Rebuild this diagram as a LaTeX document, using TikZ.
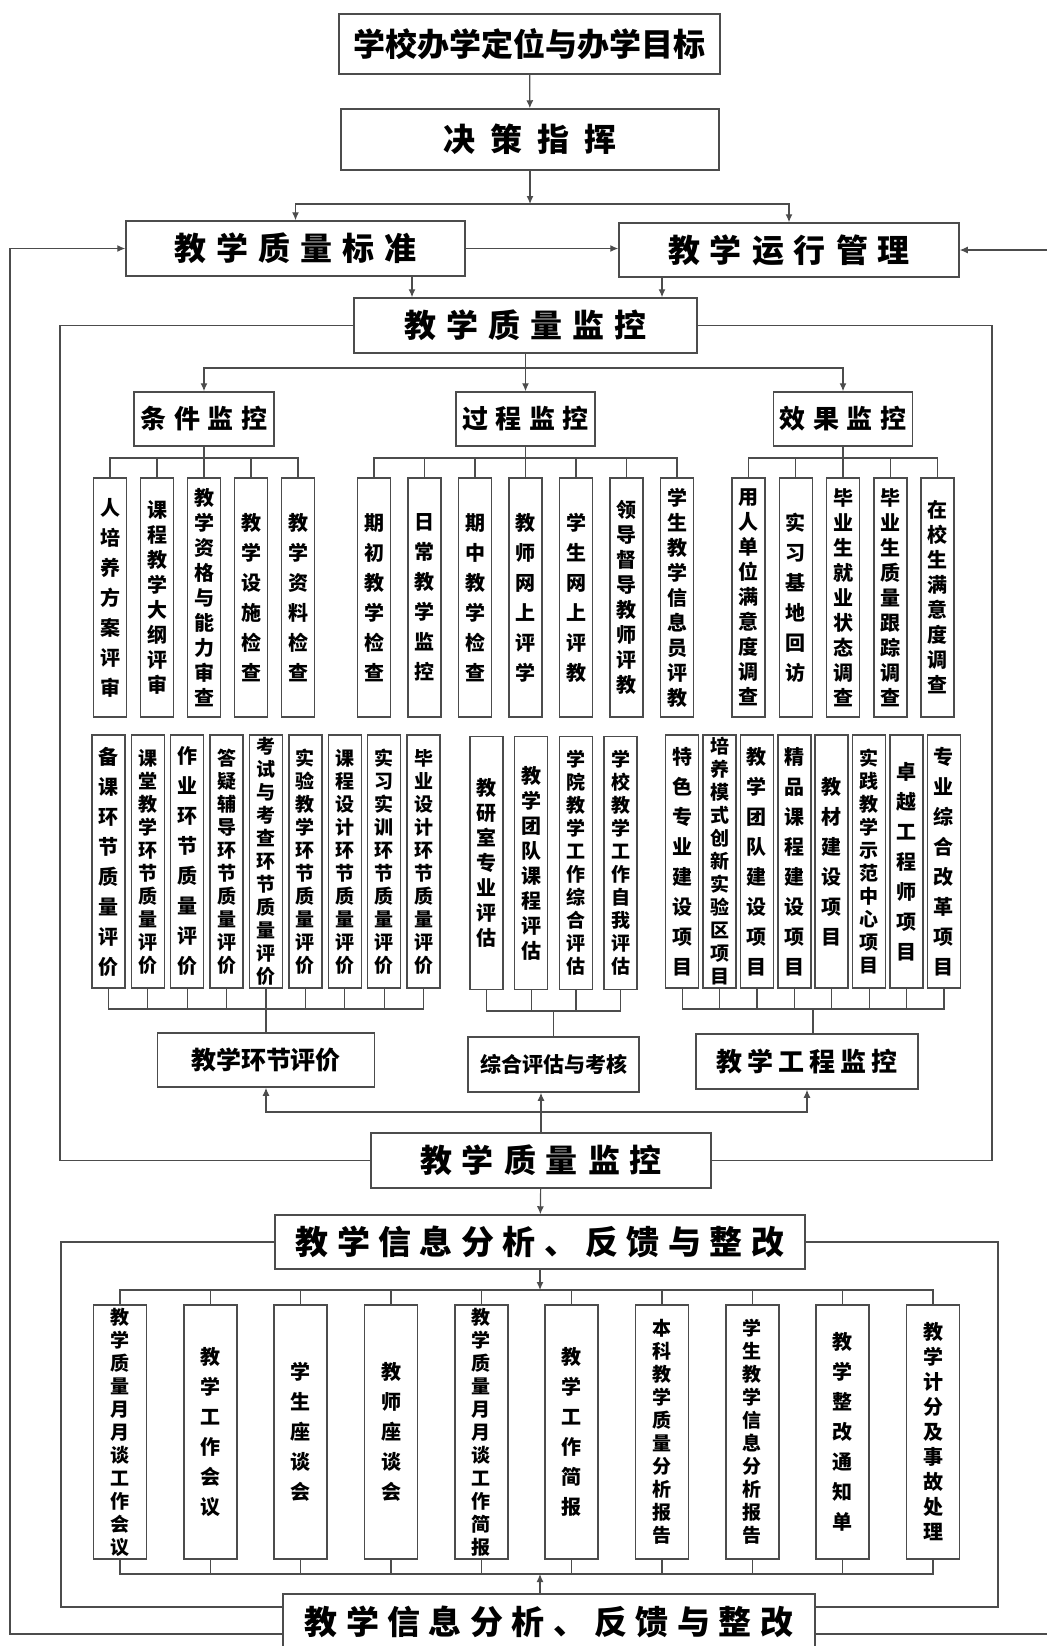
\documentclass[tikz,border=0pt]{standalone}
\usepackage{fontspec}
\setmainfont{Noto Sans CJK SC}
\usetikzlibrary{arrows.meta,positioning}
\XeTeXlinebreaklocale "zh"
\XeTeXlinebreakskip=0pt plus 1pt
\newcommand\zi[2]{\bfseries\fontsize{#1}{#1}\selectfont\spaceskip=#2pt\relax}

\tikzset{
  kuang/.style={draw=black!70, line width=0.75pt, inner sep=0pt, text=black},
  shu/.style={kuang, minimum width=16.5pt, minimum height=119.5pt, text width=12pt, align=center, font=\bfseries\fontsize{10}{15}\selectfont},
  shu2/.style={shu, minimum height=126.5pt},
  di/.style={shu, minimum width=26.5pt, minimum height=127pt},
  mi/.style={font=\bfseries\fontsize{10}{12.5}\selectfont},
  jin/.style={font=\bfseries\fontsize{9.5}{11.5}\selectfont},
  xian/.style={draw=black!70, line width=0.6pt},
}

\begin{document}
\begin{tikzpicture}[x=0.5pt, y=-0.5pt, >={Latex[length=4pt,width=3.5pt]}]
  \useasboundingbox (0,0) rectangle (1046,1646);

  % top part
  \node[kuang, minimum width=190.5pt, minimum height=30pt, font=\zi{16}{0}] (mubiao) at (529.5,44) {学校办学定位与办学目标};
  \node[kuang, minimum width=189pt, minimum height=30.5pt, font=\zi{16}{7.5}] (juece) at (530,139.5) {决 策 指 挥};
  \node[kuang, minimum width=169.5pt, minimum height=27.5pt, font=\zi{16}{5}] (biaozhun) at (295.5,248.5) {教 学 质 量 标 准};
  \node[kuang, minimum width=170pt, minimum height=27pt, font=\zi{16}{5}] (yunxing) at (789,250) {教 学 运 行 管 理};
  \node[kuang, minimum width=171.5pt, minimum height=27.5pt, font=\zi{16}{5}] (jiankong1) at (525.5,325.5) {教 学 质 量 监 控};
  \node[kuang, minimum width=70pt, minimum height=27pt, font=\zi{13}{3.8}] (tiaojian) at (204,419) {条 件 监 控};
  \node[kuang, minimum width=69.5pt, minimum height=27pt, font=\zi{13}{3.8}] (guocheng) at (525.5,419) {过 程 监 控};
  \node[kuang, minimum width=69.5pt, minimum height=27pt, font=\zi{13}{3.8}] (xiaoguo) at (843,419) {效 果 监 控};

  % first row
  \node[shu] (t1) at (110,597.5) {人培养方案评审};
  \node[shu, mi] (t2) at (157,597.5) {课程教学大纲评审};
  \node[shu, mi] (t3) at (204,597.5) {教学资格与能力审查};
  \node[shu] (t4) at (251,597.5) {教学设施检查};
  \node[shu] (t5) at (298,597.5) {教学资料检查};
  \node[shu] (g1) at (374,597.5) {期初教学检查};
  \node[shu] (g2) at (424.5,597.5) {日常教学监控};
  \node[shu] (g3) at (475,597.5) {期中教学检查};
  \node[shu] (g4) at (525.5,597.5) {教师网上评学};
  \node[shu] (g5) at (576,597.5) {学生网上评教};
  \node[shu, mi] (g6) at (626.5,597.5) {领导督导教师评教};
  \node[shu, mi] (g7) at (677,597.5) {学生教学信息员评教};
  \node[shu, mi] (x1) at (748.5,597.5) {用人单位满意度调查};
  \node[shu] (x2) at (795.75,597.5) {实习基地回访};
  \node[shu, mi] (x3) at (843,597.5) {毕业生就业状态调查};
  \node[shu, mi] (x4) at (890.25,597.5) {毕业生质量跟踪调查};
  \node[shu, mi] (x5) at (937.5,597.5) {在校生满意度调查};

  % second row
  \node[shu2] (h1) at (108.4,861.5) {备课环节质量评价};
  \node[shu2, jin] (h2) at (147.8,861.5) {课堂教学环节质量评价};
  \node[shu2] (h3) at (187.2,861.5) {作业环节质量评价};
  \node[shu2, jin] (h4) at (226.6,861.5) {答疑辅导环节质量评价};
  \node[shu2, jin] (h5) at (266,861.5) {考试与考查环节质量评价};
  \node[shu2, jin] (h6) at (305.4,861.5) {实验教学环节质量评价};
  \node[shu2, jin] (h7) at (344.8,861.5) {课程设计环节质量评价};
  \node[shu2, jin] (h8) at (384.2,861.5) {实习实训环节质量评价};
  \node[shu2, jin] (h9) at (423.6,861.5) {毕业设计环节质量评价};
  \node[shu2, mi] (z1) at (486.5,863) {教研室专业评估};
  \node[shu2, mi] (z2) at (531.2,863) {教学团队课程评估};
  \node[shu2, jin] (z3) at (575.9,863) {学院教学工作综合评估};
  \node[shu2, jin] (z4) at (620.6,863) {学校教学工作自我评估};
  \node[shu2] (c1) at (682.1,861.5) {特色专业建设项目};
  \node[shu2, jin] (c2) at (719.5,861.5) {培养模式创新实验区项目};
  \node[shu2] (c3) at (756.9,861.5) {教学团队建设项目};
  \node[shu2] (c4) at (794.3,861.5) {精品课程建设项目};
  \node[shu2] (c5) at (831.7,861.5) {教材建设项目};
  \node[shu2, jin] (c6) at (869.1,861.5) {实践教学示范中心项目};
  \node[shu2] (c7) at (906.5,861.5) {卓越工程师项目};
  \node[shu2] (c8) at (943.9,861.5) {专业综合改革项目};

  \node[kuang, minimum width=108.5pt, minimum height=27pt, font=\zi{12.5}{0}] (huanjie) at (266,1060) {教学环节评价};
  \node[kuang, minimum width=85.5pt, minimum height=27.5pt, font=\zi{10.5}{0}] (zonghe) at (553.5,1064.5) {综合评估与考核};
  \node[kuang, minimum width=111pt, minimum height=27.5pt, font=\zi{13}{2.5}] (gongcheng) at (807,1061.5) {教 学 工 程 监 控};
  \node[kuang, minimum width=170pt, minimum height=27.5pt, font=\zi{16}{5}] (jiankong2) at (541,1160.5) {教 学 质 量 监 控};
  \node[kuang, minimum width=265pt, minimum height=27pt, font=\zi{16.5}{4.2}] (fankui1) at (540,1242) {教 学 信 息 分 析 、 反 馈 与 整 改};

  % bottom row
  \node[di, jin] (f1) at (120,1432) {教学质量月月谈工作会议};
  \node[di] (f2) at (210.3,1432) {教学工作会议};
  \node[di] (f3) at (300.7,1432) {学生座谈会};
  \node[di] (f4) at (391,1432) {教师座谈会};
  \node[di, jin] (f5) at (481.3,1432) {教学质量月月谈工作简报};
  \node[di] (f6) at (571.7,1432) {教学工作简报};
  \node[di, jin] (f7) at (662,1432) {本科教学质量分析报告};
  \node[di, jin] (f8) at (752.3,1432) {学生教学信息分析报告};
  \node[di] (f9) at (842.7,1432) {教学整改通知单};
  \node[di, mi] (f10) at (933,1432) {教学计分及事故处理};
  \node[kuang, minimum width=266pt, minimum height=28pt, font=\zi{16.5}{4.2}] (fankui2) at (549,1622) {教 学 信 息 分 析 、 反 馈 与 整 改};

  % junction points
  \coordinate (j1) at (530,204);
  \coordinate (j2) at (525.5,368);
  \coordinate (tj) at (204,458);
  \coordinate (gj) at (525.5,458);
  \coordinate (xj) at (843,458);
  \coordinate (hj) at (266,1009);
  \coordinate (zj) at (553.5,1011);
  \coordinate (cj) at (813,1009);
  \coordinate (j3) at (541,1112);
  \coordinate (fj) at (540,1290);
  \coordinate (fk) at (540,1574);
  \coordinate (n1) at (60,0);
  \coordinate (n2) at (992,0);
  \coordinate (m1) at (61,1607);
  \coordinate (m2) at (998,1607);
  \coordinate (zuo) at (10,1634);
  \coordinate (you) at (1060,1634);

  % connectors
  \draw[xian,->] (mubiao) -- (juece);
  \draw[xian,->] (juece) -- (j1);
  \draw[xian,->] (j1) -| (biaozhun);
  \draw[xian,->] (j1) -| (yunxing);
  \draw[xian,->] (biaozhun.east) -- (biaozhun.east -| yunxing.west);
  \draw[xian,->] (biaozhun.south -| 412,0) -- (jiankong1.north -| 412,0);
  \draw[xian,->] (yunxing.south -| 662,0) -- (jiankong1.north -| 662,0);
  \draw[xian,->] (fankui2.west |- zuo) -- (zuo) |- (biaozhun.west);
  \draw[xian,->] (fankui2.east |- you) -- (you) |- (yunxing.east);
  \draw[xian] (jiankong1.west) -| (n1 |- jiankong2.west) -- (jiankong2.west);
  \draw[xian] (jiankong1.east) -| (n2 |- jiankong2.east) -- (jiankong2.east);

  \draw[xian,->] (jiankong1) -- (guocheng);
  \draw[xian,->] (j2) -| (tiaojian);
  \draw[xian,->] (j2) -| (xiaoguo);

  \draw[xian] (tiaojian) -- (tj) (t1) |- (tj) -| (t5);
  \draw[xian] (t2) -- (t2 |- tj) (t3) -- (tj) (t4) -- (t4 |- tj);
  \draw[xian] (guocheng) -- (gj) (g1) |- (gj) -| (g7);
  \draw[xian] (g2) -- (g2 |- gj) (g3) -- (g3 |- gj) (g4) -- (gj) (g5) -- (g5 |- gj) (g6) -- (g6 |- gj);
  \draw[xian] (xiaoguo) -- (xj) (x1) |- (xj) -| (x5);
  \draw[xian] (x2) -- (x2 |- xj) (x3) -- (xj) (x4) -- (x4 |- xj);

  \draw[xian] (huanjie) -- (hj) (h1) |- (hj) -| (h9);
  \draw[xian] (h2) -- (h2 |- hj) (h3) -- (h3 |- hj) (h4) -- (h4 |- hj) (h5) -- (hj);
  \draw[xian] (h6) -- (h6 |- hj) (h7) -- (h7 |- hj) (h8) -- (h8 |- hj);
  \draw[xian] (zonghe) -- (zj) (z1) |- (zj) -| (z4);
  \draw[xian] (z2) -- (z2 |- zj) (z3) -- (z3 |- zj);
  \draw[xian] (cj |- gongcheng.north) -- (cj) (c1) |- (cj) -| (c8);
  \draw[xian] (c2) -- (c2 |- cj) (c3) -- (c3 |- cj) (c4) -- (c4 |- cj) (c5) -- (c5 |- cj);
  \draw[xian] (c6) -- (c6 |- cj) (c7) -- (c7 |- cj);

  \draw[xian,->] (jiankong2) -- (jiankong2 |- zonghe.south);
  \draw[xian,->] (j3) -| (huanjie);
  \draw[xian,->] (j3) -| (gongcheng);

  \draw[xian,->] (jiankong2) -- (fankui1);
  \draw[xian] (fankui1.west) -| (m1) -- (fankui2.west |- m1);
  \draw[xian] (fankui1.east) -| (m2) -- (fankui2.east |- m2);
  \draw[xian,->] (fankui1) -- (fj);
  \draw[xian] (f1) |- (fj) -| (f10);
  \draw[xian] (f2) -- (f2 |- fj) (f3) -- (f3 |- fj) (f4) -- (f4 |- fj) (f5) -- (f5 |- fj);
  \draw[xian] (f6) -- (f6 |- fj) (f7) -- (f7 |- fj) (f8) -- (f8 |- fj) (f9) -- (f9 |- fj);
  \draw[xian] (f1) |- (fk) -| (f10);
  \draw[xian] (f2) -- (f2 |- fk) (f3) -- (f3 |- fk) (f4) -- (f4 |- fk) (f5) -- (f5 |- fk);
  \draw[xian] (f6) -- (f6 |- fk) (f7) -- (f7 |- fk) (f8) -- (f8 |- fk) (f9) -- (f9 |- fk);
  \draw[xian,->] (fankui2.north -| fk) -- (fk);
\end{tikzpicture}
\end{document}
